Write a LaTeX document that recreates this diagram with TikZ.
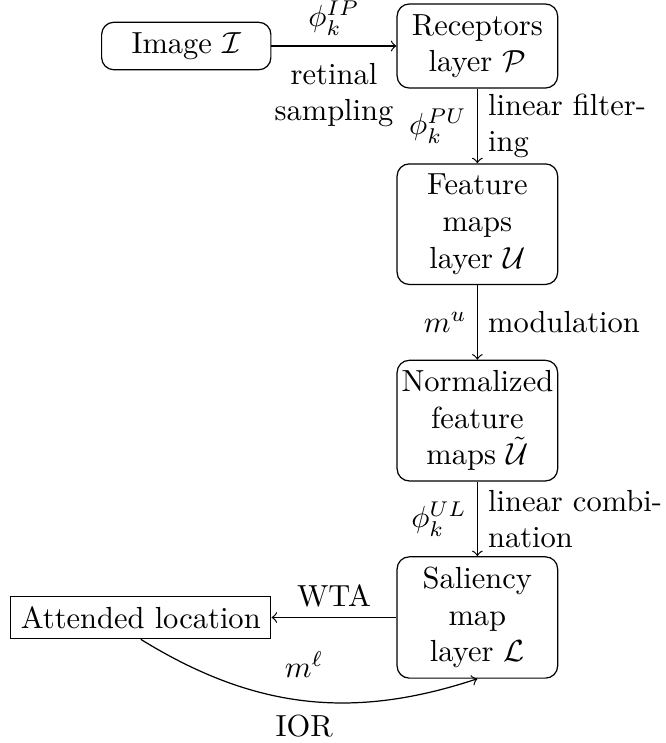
\documentclass[tikz,border=0pt]{standalone}
\usepackage{amsmath, amssymb}
\usepackage{tikz}
\usetikzlibrary{positioning}

\begin{document}
\begin{tikzpicture}[
    node distance=0.86cm and 1.44cm,
    layer/.style={rectangle, draw=black, rounded corners, align=center, minimum width=1.85cm, inner xsep=1pt},
    source/.style={rectangle, draw=black, rounded corners, minimum width=1.95cm},
    target/.style={rectangle, draw=black},
    note/.style={text width=2.05cm, align=left},
    arrow/.style={->}
]

\useasboundingbox (-5.50,0.53) rectangle (2.17,-8.03);

\node[layer] (receptors) at (0,0) {Receptors\\layer $\mathcal{P}$};
\node[source, left=of receptors] (image) {Image $\mathcal{I}$};
\node[layer, below=of receptors] (features) {Feature\\maps\\layer $\mathcal{U}$};
\node[layer, below=of features] (normalized) {Normalized\\feature\\maps $\tilde{\mathcal{U}}$};
\node[layer, below=of normalized] (saliency) {Saliency\\map\\layer $\mathcal{L}$};
\node[target, left=of saliency] (attended) {Attended location};

\draw[arrow] (image) -- node[above] {$\phi_k^{IP}$} node[below=2pt, align=center] {retinal\\sampling} (receptors);
\draw[arrow] (receptors) -- node[left] {$\phi_k^{PU}$} node[right, note] {linear filtering} (features);
\draw[arrow] (features) -- node[left] {$m^u$} node[right] {modulation} (normalized);
\draw[arrow] (normalized) -- node[left] {$\phi_k^{UL}$} node[right, note] {linear combination} (saliency);
\draw[arrow] (saliency) -- node[above] {WTA} (attended);
\draw[arrow] (attended.south) to[bend right=25] node[above=4pt] {$m^\ell$} node[below=1pt] {IOR} (saliency.south);

\end{tikzpicture}
\end{document}
